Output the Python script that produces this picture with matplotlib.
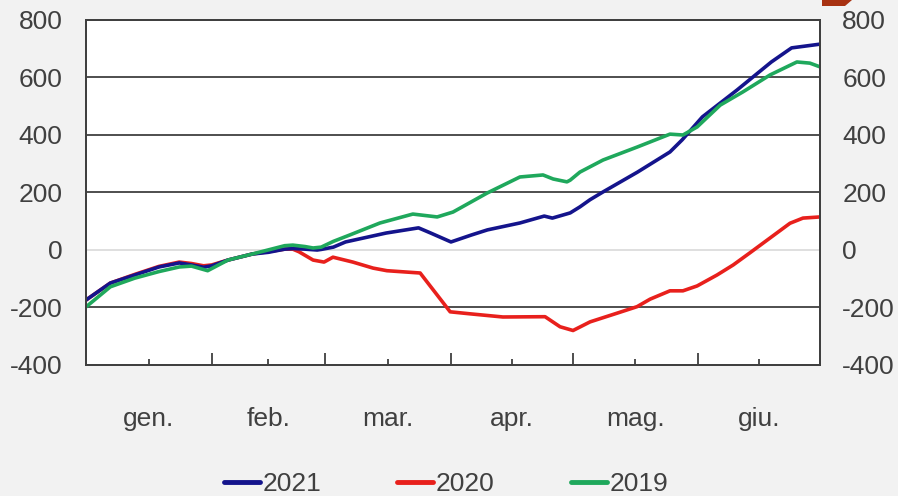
import matplotlib
matplotlib.use("Agg")
import matplotlib.pyplot as plt
from matplotlib.patches import Polygon

plt.rcParams['font.family'] = ['Liberation Sans', 'DejaVu Sans']

# ---- data (day of year, cumulative value) ----
days_2021 = [0, 6, 12, 18, 23, 26, 29, 31, 35, 41, 45, 49, 51, 54, 57, 58, 61, 64, 74, 82, 85, 90,
             95, 99, 107, 113, 115, 119.4, 121.8, 124.3, 127.5, 136, 144, 147, 152, 160.5, 169, 174, 181]
vals_2021 = [-174, -115, -87, -59, -45, -52, -60, -55, -35, -14, -8, 3, 5, 3, 0, 2, 10, 28, 59, 77, 59, 28,
             52, 70, 94, 118, 111, 129, 150, 175, 202, 271, 341, 383, 463, 556, 654, 703, 716]

days_2020 = [0, 6, 12, 18, 23, 26, 29, 31, 35, 41, 49, 51, 52.5, 56, 58.7, 60.9, 65.8, 70.8, 74.2, 82.4,
             89.8, 94.7, 102.8, 113.2, 116.9, 120.1, 124.3, 130.9, 135.9, 139.1, 144, 147.2, 150.7,
             155.6, 159.6, 163.7, 168.7, 173.6, 176.8, 181]
vals_2020 = [-174, -115, -85, -57, -42, -47, -55, -52, -35, -14, 3, 3, -6, -35, -42, -25, -42, -63, -72, -80,
             -215, -222, -233, -232, -267, -280, -250, -220, -197, -171, -142, -142, -125,
             -87, -52, -10, 42, 93, 111, 115]

days_2019 = [0, 6, 12, 18, 23, 26, 30, 35, 41, 49, 51, 54, 56, 58, 61, 65, 72.5, 80.6, 86.6, 90.5,
             98.9, 107, 112.7, 115.2, 118.6, 119.4, 121.8, 127.5, 135.9, 144, 147.2, 150.7, 156.4,
             162, 168.7, 175.3, 178.5, 181]
vals_2019 = [-198, -128, -98, -75, -59, -56, -72, -35, -14, 15, 17, 12, 7, 10, 30, 52, 94, 125, 115, 132,
             198, 254, 261, 247, 237, 243, 271, 313, 358, 403, 400, 428, 504,
             550, 609, 654, 650, 637]

month_labels = ['gen.', 'feb.', 'mar.', 'apr.', 'mag.', 'giu.']
month_starts = [0, 31, 59, 90, 120, 151, 181]
y_ticks = [-400, -200, 0, 200, 400, 600, 800]

# ---- styling ----
bg = '#f2f2f2'
dark = '#404040'
c2021 = '#14148c'
c2020 = '#e8201c'
c2019 = '#1fa85c'

fig = plt.figure(figsize=(8.98, 4.96), dpi=100, facecolor=bg)
ax = fig.add_axes([86/898, 1-365/496, (820-86)/898, (365-20)/496])
ax.set_facecolor('white')

ax.set_xlim(month_starts[0], month_starts[-1])
ax.set_ylim(-400, 800)

for y in y_ticks:
    if y == 0:
        ax.axhline(y, color='#d9d9d9', lw=1.2, zorder=1)
    elif -400 < y < 800:
        ax.axhline(y, color=dark, lw=1.3, zorder=1)

lw = 2.6
ax.plot(days_2021, vals_2021, color=c2021, lw=lw, label='2021', zorder=3,
        solid_joinstyle='round', solid_capstyle='round')
ax.plot(days_2020, vals_2020, color=c2020, lw=lw, label='2020', zorder=2,
        solid_joinstyle='round', solid_capstyle='round')
ax.plot(days_2019, vals_2019, color=c2019, lw=lw, label='2019', zorder=4,
        solid_joinstyle='round', solid_capstyle='round')

for s in ax.spines.values():
    s.set_color(dark)
    s.set_linewidth(1.4)

fs = 19
# x axis: month boundaries as major ticks (no labels), month midpoints as minor ticks with labels
mids = [(month_starts[i] + month_starts[i+1]) / 2 for i in range(len(month_labels))]
ax.set_xticks(month_starts[1:-1])
ax.set_xticklabels([])
ax.set_xticks(mids, labels=month_labels, minor=True)
ax.tick_params(axis='x', which='major', direction='in', length=9, width=1.3, color=dark)
ax.tick_params(axis='x', which='minor', direction='in', length=4, width=1.3, color=dark,
               labelsize=fs, labelcolor=dark, pad=30)

ax.set_yticks(y_ticks)
ax.set_yticklabels([str(v) for v in y_ticks])
ax.tick_params(axis='y', length=0, labelsize=fs, labelcolor=dark, pad=17)

ax2 = ax.twinx()
ax2.set_ylim(-400, 800)
ax2.set_yticks(y_ticks)
ax2.set_yticklabels([str(v) for v in y_ticks])
ax2.tick_params(axis='y', length=0, labelsize=fs, labelcolor=dark, pad=16)
for s in ax2.spines.values():
    s.set_color(dark)
    s.set_linewidth(1.4)

leg = fig.legend(loc='center', bbox_to_anchor=(446/898, 1-484/496), ncol=3, frameon=False,
                 fontsize=fs, handlelength=1.35, handletextpad=0.1, columnspacing=2.9,
                 labelcolor=dark)
for h in leg.legend_handles:
    h.set_linewidth(3.5)
    h.set_solid_capstyle('round')

# decorative corner mark (top right of the original image)
poly = Polygon([(822/898, 1.0), (852/898, 1.0), (845/898, 1-6/496), (822/898, 1-6/496)],
               closed=True, transform=fig.transFigure, facecolor='#a83212', edgecolor='none')
fig.patches.append(poly)

fig.savefig('out.png', dpi=100, facecolor=bg)
